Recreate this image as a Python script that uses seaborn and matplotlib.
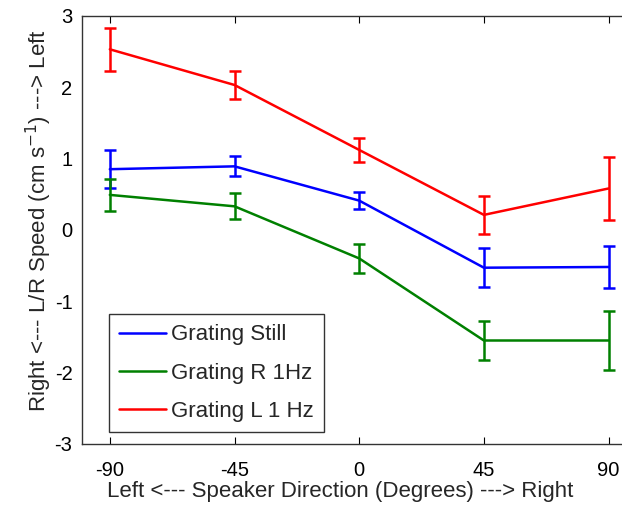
import matplotlib
matplotlib.use("Agg")
import matplotlib.pyplot as plt
import seaborn as sns
import pandas as pd
import numpy as np

directions = [-90, -45, 0, 45, 90]
series_names = ["Grating Still", "Grating R 1Hz", "Grating L 1 Hz"]
still_mean = [0.85, 0.89, 0.41, -0.53, -0.52]
still_err = [0.27, 0.14, 0.12, 0.27, 0.30]
r1hz_mean = [0.49, 0.33, -0.40, -1.55, -1.55]
r1hz_err = [0.22, 0.18, 0.20, 0.28, 0.41]
l1hz_mean = [2.53, 2.03, 1.12, 0.21, 0.58]
l1hz_err = [0.30, 0.20, 0.17, 0.27, 0.44]
colors = ["#0000ff", "#008000", "#ff0000"]

means = [still_mean, r1hz_mean, l1hz_mean]
errs = [still_err, r1hz_err, l1hz_err]
rows = []
for name, m, e in zip(series_names, means, errs):
    for d, mv, ev in zip(directions, m, e):
        rows.append({"Direction": d, "Speed": mv, "Err": ev, "Series": name})
df = pd.DataFrame(rows)

sns.set_style("white")
plt.rcParams["font.family"] = ["Liberation Sans", "DejaVu Sans"]
plt.rcParams["axes.unicode_minus"] = False

fig = plt.figure(figsize=(6.22, 5.08), dpi=100)
ax = fig.add_axes([0.132, 0.126, 0.891, 0.843])

sns.lineplot(data=df, x="Direction", y="Speed", hue="Series", palette=colors,
             hue_order=series_names, linewidth=1.8, ax=ax, errorbar=None)
for name, c in zip(series_names, colors):
    sub = df[df["Series"] == name]
    ax.errorbar(sub["Direction"], sub["Speed"], yerr=sub["Err"], fmt="none",
                ecolor=c, elinewidth=1.8, capsize=4, capthick=1.8)

ax.set_xlim(-100, 100)
ax.set_ylim(-3, 3)
ax.set_xticks(directions)
ax.set_yticks([-3, -2, -1, 0, 1, 2, 3])
ax.tick_params(direction="in", length=5, width=0.8, labelsize=14.5, top=True,
               bottom=True, left=False, right=False, colors="black")
ax.tick_params(axis="x", pad=12)
ax.tick_params(axis="y", pad=7)
for s in ax.spines.values():
    s.set_color("#333333")
    s.set_linewidth(1.0)
    s.set_visible(True)

ax.set_xlabel("Left <--- Speaker Direction (Degrees) ---> Right", fontsize=16)
ax.set_ylabel(r"Right <--- L/R Speed (cm s$^{-1}$) ---> Left", fontsize=16)
ax.xaxis.set_label_coords(0.466, -0.087)
ax.yaxis.set_label_coords(-0.05, 0.521)

leg = ax.legend(loc="lower left", bbox_to_anchor=(0.049, 0.028), fontsize=16,
                frameon=True, fancybox=False, edgecolor="black", handlelength=2.1,
                handletextpad=0.25, borderpad=0.45, labelspacing=0.78,
                borderaxespad=0)
leg.get_frame().set_linewidth(1.0)
for line in leg.get_lines():
    line.set_linewidth(1.8)

fig.savefig("out.png", dpi=100, facecolor="white")
